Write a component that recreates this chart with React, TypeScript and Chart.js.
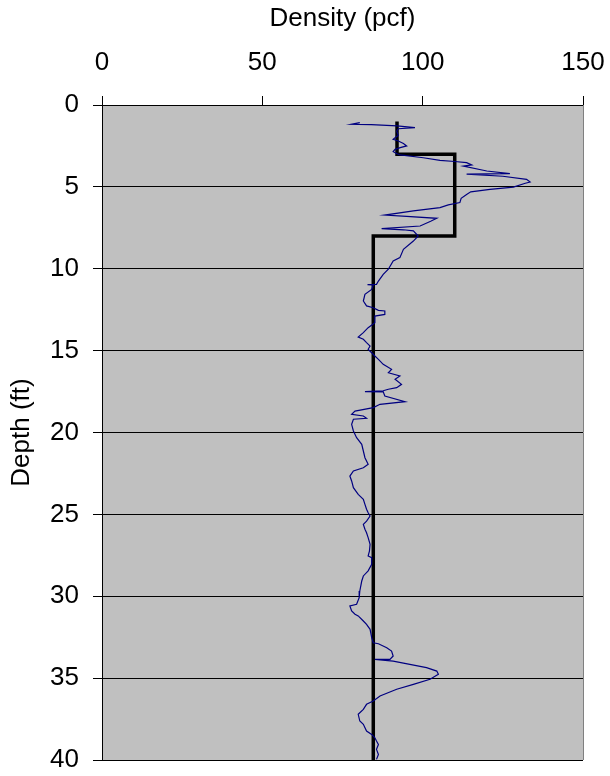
import { useEffect, useRef } from "react";
import { Chart, registerables } from "chart.js";

Chart.register(...registerables);

// Measured density log (pcf) and matching depths (ft)
const densityLog = [
  80.4, 77.8, 84.0, 92.0, 97.6, 92.4, 91.9, 92.4, 90.8, 92.4, 94.0, 95.0, 93.0, 91.4, 90.8, 92.0, 93.0,
  100.2, 105.4, 110.0, 113.7, 115.3, 112.7, 120.0, 127.2, 113.7, 125.0, 132.4, 133.5, 132.0, 128.3,
  121.0, 115.0, 113.7, 112.0, 111.6, 108.0, 105.4, 97.1, 88.2, 95.0, 104.4, 102.5, 99.2, 87.2, 94.0,
  97.1, 98.6, 97.1, 94.0, 92.9, 90.8, 89.3, 87.7, 86.2, 85.6, 82.8, 84.6, 84.1, 82.0, 81.5, 82.5, 84.6,
  86.2, 88.2, 88.2, 85.1, 85.1, 83.0, 81.5, 79.9, 81.5, 82.5, 83.6, 83.0, 84.1, 85.1, 86.2, 87.7, 90.3,
  89.3, 92.9, 91.4, 93.4, 91.9, 89.3, 87.7, 82.0, 87.7, 88.2, 94.5, 86.7, 84.6, 78.9, 77.85, 81.5, 82.5,
  78.4, 77.85, 78.4, 79.4, 81.0, 81.5, 82.0, 83.0, 81.5, 78.4, 77.3, 77.85, 78.4, 79.9, 81.5, 82.0,
  82.5, 83.0, 83.6, 82.5, 81.5, 82.0, 82.5, 83.0, 83.6, 83.4, 83.0, 84.1, 84.1, 83.0, 81.5, 81.0, 80.4,
  80.2, 79.4, 77.3, 77.85, 78.9, 79.9, 81.5, 82.5, 83.6, 84.1, 84.6, 86.2, 88.8, 90.3, 90.8, 89.8, 85.1,
  90.8, 96.0, 101.2, 104.4, 104.9, 102.3, 97.1, 91.9, 86.7, 84.6, 82.5, 81.5, 79.9, 80.4, 81.5, 82.5,
  84.1, 85.1, 85.6, 86.2, 85.6, 86.2, 85.6,
];
const depthLog = [
  1.08, 1.18, 1.2, 1.28, 1.38, 1.45, 1.59, 1.85, 2.1, 2.2, 2.35, 2.5, 2.6, 2.71, 2.85, 2.98, 3.05,
  3.22, 3.38, 3.45, 3.52, 3.66, 3.73, 4.03, 4.19, 4.22, 4.35, 4.54, 4.7, 4.78, 5.01,
  5.15, 5.3, 5.46, 5.7, 5.96, 6.1, 6.27, 6.47, 6.72, 6.8, 6.92, 7.1, 7.39, 7.55, 7.62,
  7.69, 8.0, 8.31, 8.81, 9.32, 9.53, 10.03, 10.34, 10.75, 10.95, 10.97, 11.0, 11.26, 11.56, 11.97, 12.27, 12.38,
  12.54, 12.58, 12.79, 12.89, 13.29, 13.6, 13.9, 14.17, 14.31, 14.51, 14.72, 14.92, 15.13, 15.33, 15.53, 15.84, 16.14,
  16.35, 16.55, 16.75, 17.06, 17.26, 17.36, 17.45, 17.5, 17.52, 17.77, 18.12, 18.28, 18.48, 18.69, 18.89, 18.99, 19.13,
  19.19, 19.5, 19.91, 20.32, 20.72, 21.13, 21.54, 21.94, 22.15, 22.35, 22.66, 22.96, 23.37, 23.78, 24.08, 24.39,
  24.69, 24.9, 25.1, 25.41, 25.61, 25.91, 26.12, 26.42, 26.83, 27.24, 27.54, 27.64, 28.05, 28.45, 28.76, 29.07, 29.68,
  30.09, 30.49, 30.59, 30.9, 31.1, 31.2, 31.51, 31.72, 32.02, 32.53, 32.84, 32.9, 33.14, 33.35, 33.65, 33.86, 33.86,
  33.96, 34.16, 34.36, 34.57, 34.77, 35.07, 35.38, 35.68, 36.09, 36.4, 36.6, 36.91, 37.21, 37.62, 37.82, 38.23,
  38.44, 38.64, 38.84, 39.05, 39.35, 39.66, 39.96,
];

// Design (layered) density profile
const stepDensity = [92, 92, 110, 110, 84.6, 84.6];
const stepDepth = [1, 3, 3, 8, 8, 40];

const xMin = 0;
const xMax = 150;
const xStep = 50;
const yMin = 0;
const yMax = 40;
const yStep = 5;

export default function App() {
  const ref = useRef<HTMLCanvasElement>(null);

  useEffect(() => {
    document.body.style.margin = "0";
    const family = "'Liberation Sans', Arial, sans-serif";
    const plotBg = {
      id: "plotBg",
      beforeDraw(chart: any) {
        const { ctx, chartArea: a } = chart;
        ctx.save();
        ctx.fillStyle = "#c0c0c0";
        ctx.fillRect(a.left, a.top, a.right - a.left, a.bottom - a.top);
        ctx.restore();
      },
      afterDraw(chart: any) {
        const { ctx, chartArea: a } = chart;
        ctx.save();
        ctx.strokeStyle = "#808080";
        ctx.lineWidth = 1;
        ctx.beginPath();
        ctx.moveTo(a.right + 0.5, a.top);
        ctx.lineTo(a.right + 0.5, a.bottom);
        ctx.stroke();
        ctx.restore();
      },
    };

    const chart = new Chart(ref.current as HTMLCanvasElement, {
      type: "scatter",
      data: {
        datasets: [
          {
            data: densityLog.map((x, i) => ({ x, y: depthLog[i] })),
            showLine: true,
            borderColor: "#000080",
            backgroundColor: "#000080",
            borderWidth: 1.2,
            pointRadius: 0,
            tension: 0,
          },
          {
            data: stepDensity.map((x, i) => ({ x, y: stepDepth[i] })),
            showLine: true,
            borderColor: "#000000",
            backgroundColor: "#000000",
            borderWidth: 3.5,
            pointRadius: 0,
            tension: 0,
          },
        ],
      },
      options: {
        animation: false,
        responsive: false,
        layout: { padding: { left: 0, right: 27, top: 0, bottom: 16 } },
        plugins: { legend: { display: false }, tooltip: { enabled: false } },
        scales: {
          x: {
            type: "linear",
            position: "top",
            min: xMin,
            max: xMax,
            ticks: { stepSize: xStep, color: "#000", font: { family, size: 26 }, padding: 18, maxRotation: 0 },
            grid: { drawOnChartArea: false, drawTicks: true, tickLength: 9, color: "#000" },
            border: { color: "#000" },
            title: {
              display: true,
              text: "Density (pcf)",
              color: "#000",
              font: { family, size: 26 },
              padding: { top: 3, bottom: 0 },
            },
            afterFit(s: any) {
              s.height = 105;
              s.paddingLeft = 0;
              s.paddingRight = 0;
            },
          },
          y: {
            type: "linear",
            reverse: true,
            min: yMin,
            max: yMax,
            ticks: { stepSize: yStep, color: "#000", font: { family, size: 26 }, padding: 14 },
            grid: { color: "#000", tickLength: 9, lineWidth: 1 },
            border: { color: "#000" },
            title: {
              display: true,
              text: "Depth (ft)",
              color: "#000",
              font: { family, size: 26 },
              padding: { top: 6, bottom: 0 },
            },
            afterFit(s: any) {
              s.width = 102;
              s.paddingTop = 0;
              s.paddingBottom = 0;
            },
          },
        },
      },
      plugins: [plotBg],
    } as any);
    return () => chart.destroy();
  }, []);

  return (
    <div style={{ width: 610, height: 776 }}>
      <canvas ref={ref} width={610} height={776} style={{ display: "block" }} />
    </div>
  );
}
